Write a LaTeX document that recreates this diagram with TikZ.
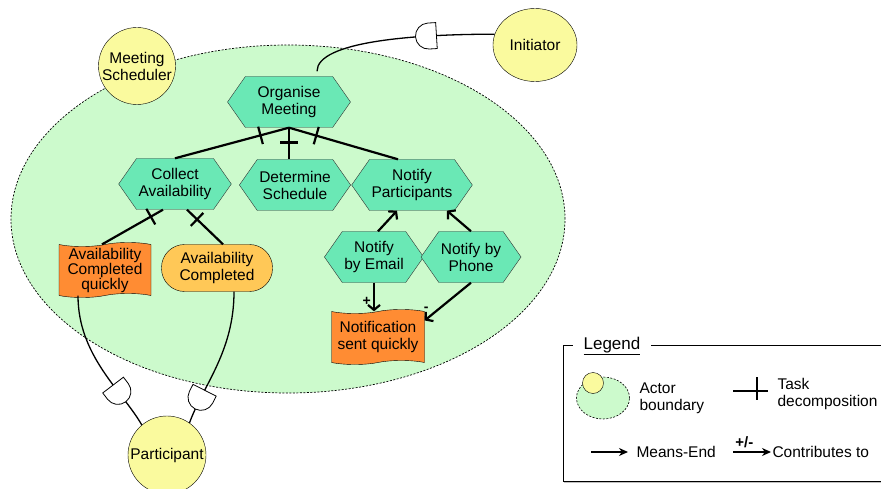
\documentclass[tikz,border=0pt]{standalone}
\usepackage{fontspec}
\setmainfont{Liberation Sans}
\usetikzlibrary{shapes.geometric,shapes.symbols,arrows.meta,decorations.markings,shadows}

\definecolor{taskgreen}{HTML}{6AE8B5}
\definecolor{boundgreen}{HTML}{CCFACC}
\definecolor{actoryellow}{HTML}{FAFA9E}
\definecolor{softorange}{HTML}{FF8C33}
\definecolor{goalorange}{HTML}{FFC857}

\tikzset{every node/.style={font=\fontsize{15.5}{17}\selectfont, align=center},
        task/.style={signal, signal to=east and west, signal pointer angle=110,
        draw=black!80, fill=taskgreen, inner sep=2pt, minimum height=51pt},
        goal/.style={rectangle, rounded corners=23pt, draw=black, fill=goalorange, minimum height=47pt},
        softgoal/.style={tape, tape bend height=4pt, draw=black, fill=softorange, minimum height=55pt, inner sep=1pt},
        actor/.style={circle, draw=black, fill=actoryellow, inner sep=0pt},
        boundary/.style={ellipse, draw=black, fill=boundgreen, dash pattern=on 2pt off 1.5pt, line width=0.7pt},
        decomp/.style={line width=2.2pt, postaction={decorate},
        decoration={markings, mark=at position #1 with {\draw[line width=2.2pt] (0,-9pt) -- (0,9pt);}}},
        decomp/.default=0.25,
        meansend/.style={line width=2.2pt, -{Straight Barb[length=5pt,width=12pt]}},
        contrib/.style={meansend},
        depend/.style={line width=1.3pt, postaction={decorate},
        decoration={markings, mark=at position #1 with {\draw[line width=0.8pt, fill=white]
        (-8pt,-13pt) -- (-8pt,13pt) -- (0,13pt) arc[start angle=90,end angle=-90,radius=13pt] -- cycle;}}},
        depend/.default=0.5,
        signlabel/.style={font=\bfseries\fontsize{14}{14}\selectfont, inner sep=2pt}}

\begin{document}
\begin{tikzpicture}[x=1pt,y=1pt]
        \useasboundingbox (0,0) rectangle (881,-489);

        % actors
        \node[boundary, minimum width=554pt, minimum height=348pt] (bound) at (288,-219) {};
        \node[actor, minimum size=77pt] (sched) at (137,-66) {Meeting\\Scheduler};
        \node[actor, ellipse, minimum width=84pt, minimum height=73pt] (init) at (535,-45) {Initiator};
        \node[actor, minimum size=78pt] (part) at (167,-455) {Participant};

        % intentional elements
        \node[task, minimum width=123pt] (org) at (289,-102) {Organise\\Meeting};
        \node[task, minimum width=107pt] (collect) at (175,-184) {Collect\\Availability};
        \node[task, minimum width=107pt] (determ) at (295,-185) {Determine\\Schedule};
        \node[task, minimum width=120pt] (notifyp) at (412,-185) {Notify\\Participants};
        \node[task, minimum width=87pt] (email) at (374,-257) {Notify\\by Email};
        \node[task, minimum width=91pt] (phone) at (471,-257) {Notify by\\Phone};
        \node[softgoal, minimum width=93pt] (sentq) at (378,-337) {Notification\\sent quickly};
        \node[softgoal, minimum width=92pt, font=\fontsize{15.5}{15}\selectfont] (acq) at (105,-270) {Availability\\Completed\\quickly};
        \node[goal, minimum width=111pt] (ac) at (217,-268) {Availability\\Completed};

        % links
        \draw[decomp] (org.south) -- (collect.north);
        \draw[decomp=0.47] (org.south) -- (org.south |- determ.north);
        \draw[decomp] (org.south) -- ([xshift=-14pt]notifyp.north);
        \draw[decomp=0.2] ([xshift=-12pt]collect.south) -- ([xshift=-3pt]acq.north);
        \draw[decomp=0.28] ([xshift=12pt]collect.south) -- ([xshift=6pt]ac.north);
        \draw[meansend] ([xshift=4pt]email.north) -- ([xshift=-15pt]notifyp.south);
        \draw[meansend] (phone.north) -- ([xshift=35pt]notifyp.south);
        \draw[contrib] (email.south) -- (email.south |- sentq.north) node[signlabel, pos=0.65, left] {+};
        \draw[contrib] (phone.south) -- ([yshift=-9pt]sentq.north east) node[signlabel, pos=0.85, above left] {-};

        % dependencies
        \draw[depend=0.35] (init.165) .. controls +(180:80) and +(90:30) .. ([xshift=28pt,yshift=5pt]org.north);
        \draw[depend=0.72] ([xshift=-27pt]acq.south) .. controls +(-90:60) and +(120:40) .. (part.130);
        \draw[depend=0.8] ([xshift=17pt]ac.south) .. controls +(-90:60) and +(70:40) .. (part.55);

        % legend
        \draw[line width=0.9pt, fill=white, drop shadow={shadow xshift=1pt, shadow yshift=-2pt, opacity=0.5}]
        (563,-345) rectangle (900,-481);
        \node[fill=white, font=\fontsize{17}{17}\selectfont, inner xsep=11pt, inner ysep=2pt] (lgtitle) at (612,-346) {\underline{Legend}};
        \node[boundary, minimum width=53pt, minimum height=42pt, line width=0.6pt] (lgbound) at (603,-398) {};
        \node[actor, minimum size=21pt] (lgactor) at (593,-383) {};
        \node[anchor=west, align=left] (lgbtext) at (636,-398) {Actor\\boundary};
        \node[anchor=west, align=left] (lgdtext) at (774,-394) {Task\\decomposition};
        \coordinate (lgdec) at (757,-391);
        \draw[line width=2pt] ([xshift=-24pt]lgdec) -- ([xshift=11pt]lgdec)
        ([yshift=14pt]lgdec) -- ([yshift=-9pt]lgdec);
        \node[anchor=west] (lgmeans) at (633,-452) {Means-End};
        \node[anchor=west] (lgcontrib) at (769,-452) {Contributes to};
        \coordinate (lgmeansfrom) at (591,-452);
        \coordinate (lgcontribfrom) at (733,-452);
        \draw[line width=1.8pt, -{Stealth[length=9pt,width=8pt]}] (lgmeansfrom) -- ([xshift=-5pt]lgmeans.west);
        \draw[line width=1.8pt, -{Stealth[length=9pt,width=8pt]}] (lgcontribfrom) -- ([xshift=2pt]lgcontrib.west)
        node[pos=0.3, above, font=\bfseries\fontsize{15}{15}\selectfont] {+/-};
\end{tikzpicture}
\end{document}
